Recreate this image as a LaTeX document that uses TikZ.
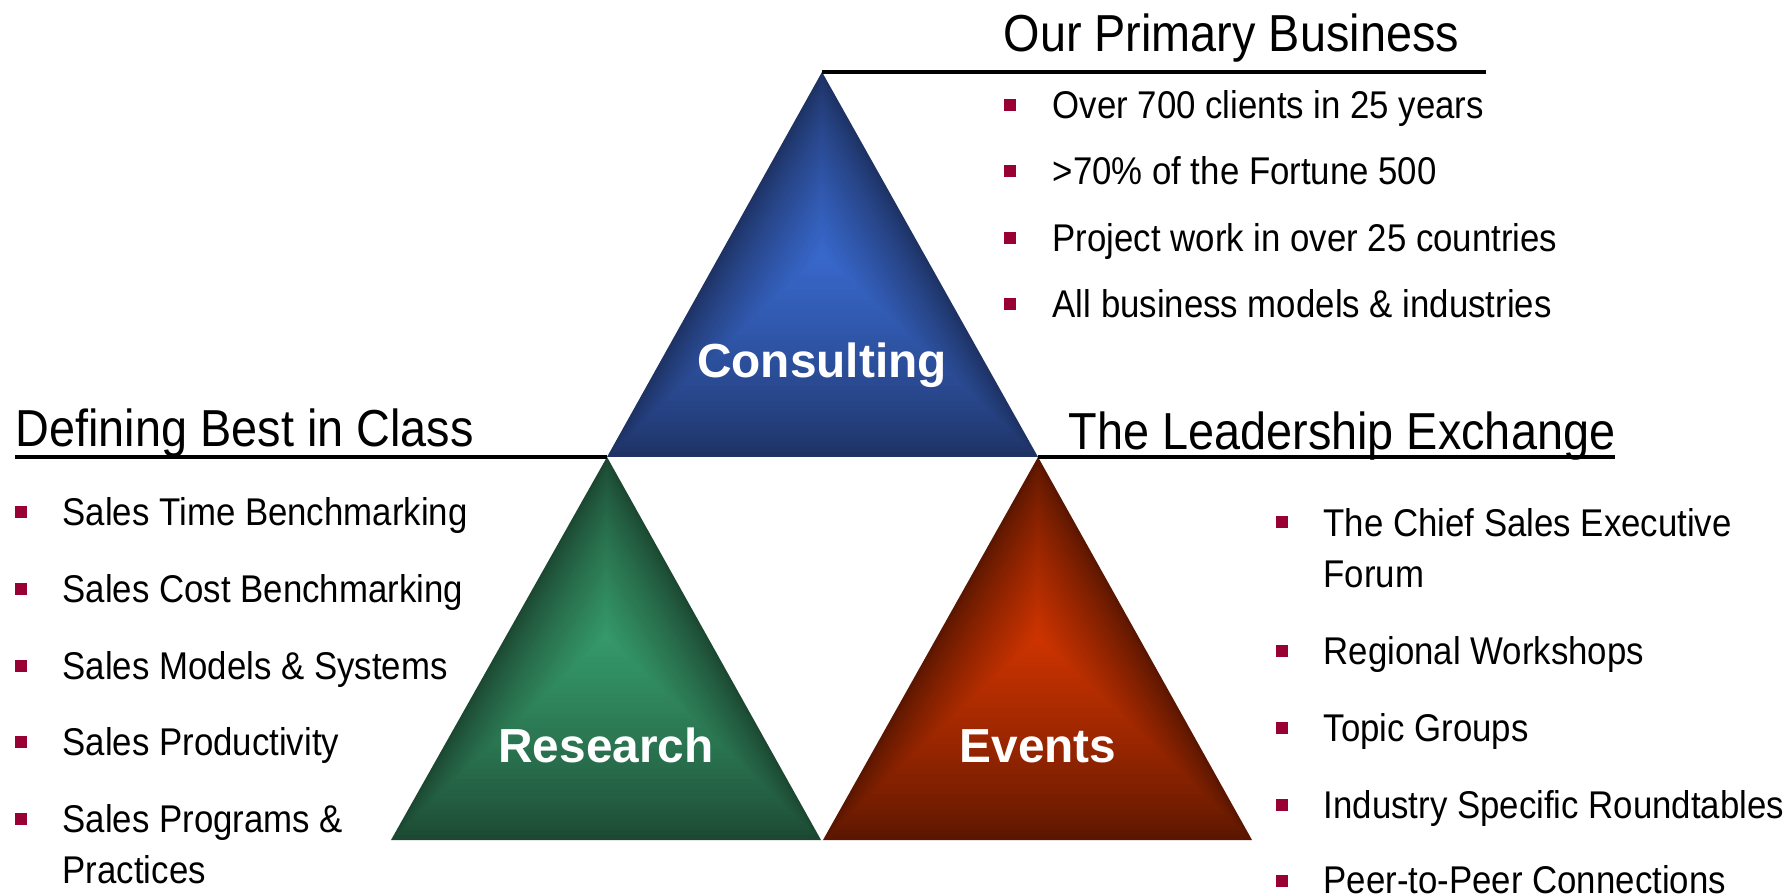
\documentclass[tikz,border=0pt]{standalone}
\usepackage{xcolor}
\usepackage{fontspec}
\setmainfont{Liberation Sans}[FakeStretch=0.9]
\newfontfamily\trifont{Liberation Sans}
\usepackage{tikz}
\usetikzlibrary{calc}

\definecolor{bulletred}{RGB}{153,0,51}
\definecolor{cblue}{RGB}{56,104,204}
\definecolor{cbluedk}{RGB}{30,50,100}
\definecolor{cgreen}{RGB}{53,153,106}
\definecolor{cgreendk}{RGB}{28,72,50}
\definecolor{cred}{RGB}{204,51,0}
\definecolor{creddk}{RGB}{90,22,0}

\tikzset{
  heading/.style={anchor=base west, inner sep=0pt, font=\fontsize{14.8}{17}\selectfont},
  item/.style={anchor=base west, inner sep=0pt, align=left, font=\fontsize{11}{14.6}\selectfont},
  bul/.style={fill=bulletred, minimum size=0.12cm, inner sep=0pt},
  trilabel/.style={anchor=base, text=white, inner sep=0pt, font=\trifont\bfseries\fontsize{13.6}{16}\selectfont},
  headrule/.style={line width=0.04cm}
}

\begin{document}
\begin{tikzpicture}
                \useasboundingbox (0,0) rectangle (17.88,-8.96);

                \coordinate (ca) at (8.22, -0.72);
                \coordinate (cl) at (6.07, -4.57);
                \coordinate (cr) at (10.38, -4.57);
                \coordinate (cc) at (8.22, -2.54);

                \coordinate (ra) at (6.07, -4.57);
                \coordinate (rl) at (3.91, -8.40);
                \coordinate (rr) at (8.21, -8.40);
                \coordinate (rc) at (6.06, -6.37);

                \coordinate (ea) at (10.38, -4.57);
                \coordinate (el) at (8.23, -8.40);
                \coordinate (er) at (12.52, -8.40);
                \coordinate (ec) at (10.38, -6.37);

                \foreach \t/\lt/\dk in {c/cblue/cbluedk, r/cgreen/cgreendk, e/cred/creddk} {
                    \foreach \i in {0,...,39} {
                        \pgfmathsetmacro\s{1-\i/40}
                        \pgfmathsetmacro\p{100*(\i/39)^0.8}
                        \fill[\lt!\p!\dk] ($(\t c)!\s!(\t a)$) -- ($(\t c)!\s!(\t l)$) -- ($(\t c)!\s!(\t r)$) -- cycle;
                    }
                }

                \node[trilabel] (consulting) at (8.22, -3.78) {Consulting};
                \node[trilabel] (research) at (6.06, -7.62) {Research};
                \node[trilabel] (events) at (10.38, -7.62) {Events};

                \coordinate (topend) at (14.86, -0.72);
                \coordinate (leftend) at (0.15, -4.57);
                \coordinate (rightend) at (16.15, -4.57);
                \draw[headrule] (ca) -- (topend);
                \draw[headrule] (leftend) -- (cl);
                \draw[headrule] (cr) -- (rightend);

                \node[heading] (primary) at (10.03, -0.52) {Our Primary Business};
                \node[heading] (bestclass) at (0.15, -4.47) {Defining Best in Class};
                \node[heading] (exchange) at (10.68, -4.50) {The Leadership Exchange};

                \node[bul] (pb1) at (10.10, -1.05) {};
                \node[bul] (pb2) at (10.10, -1.715) {};
                \node[bul] (pb3) at (10.10, -2.38) {};
                \node[bul] (pb4) at (10.10, -3.045) {};
                \node[item] (p1) at (10.52, -1.185) {Over 700 clients in 25 years};
                \node[item] (p2) at (10.52, -1.85) {>70\% of the Fortune 500};
                \node[item] (p3) at (10.52, -2.515) {Project work in over 25 countries};
                \node[item] (p4) at (10.52, -3.18) {All business models \& industries};

                \node[bul] (bb1) at (0.21, -5.12) {};
                \node[bul] (bb2) at (0.21, -5.89) {};
                \node[bul] (bb3) at (0.21, -6.66) {};
                \node[bul] (bb4) at (0.21, -7.42) {};
                \node[bul] (bb5) at (0.21, -8.19) {};
                \node[item] (b1) at (0.62, -5.255) {Sales Time Benchmarking};
                \node[item] (b2) at (0.62, -6.025) {Sales Cost Benchmarking};
                \node[item] (b3) at (0.62, -6.795) {Sales Models \& Systems};
                \node[item] (b4) at (0.62, -7.555) {Sales Productivity};
                \node[item] (b5) at (0.62, -8.835) {Sales Programs \&\\Practices};

                \node[bul] (xb1) at (12.82, -5.22) {};
                \node[bul] (xb2) at (12.82, -6.51) {};
                \node[bul] (xb3) at (12.82, -7.28) {};
                \node[bul] (xb4) at (12.82, -8.05) {};
                \node[bul] (xb5) at (12.82, -8.81) {};
                \node[item] (x1) at (13.23, -5.875) {The Chief Sales Executive\\Forum};
                \node[item] (x2) at (13.23, -6.645) {Regional Workshops};
                \node[item] (x3) at (13.23, -7.415) {Topic Groups};
                \node[item] (x4) at (13.23, -8.185) {Industry Specific Roundtables};
                \node[item] (x5) at (13.23, -8.935) {Peer-to-Peer Connections};
            \end{tikzpicture}
\end{document}
